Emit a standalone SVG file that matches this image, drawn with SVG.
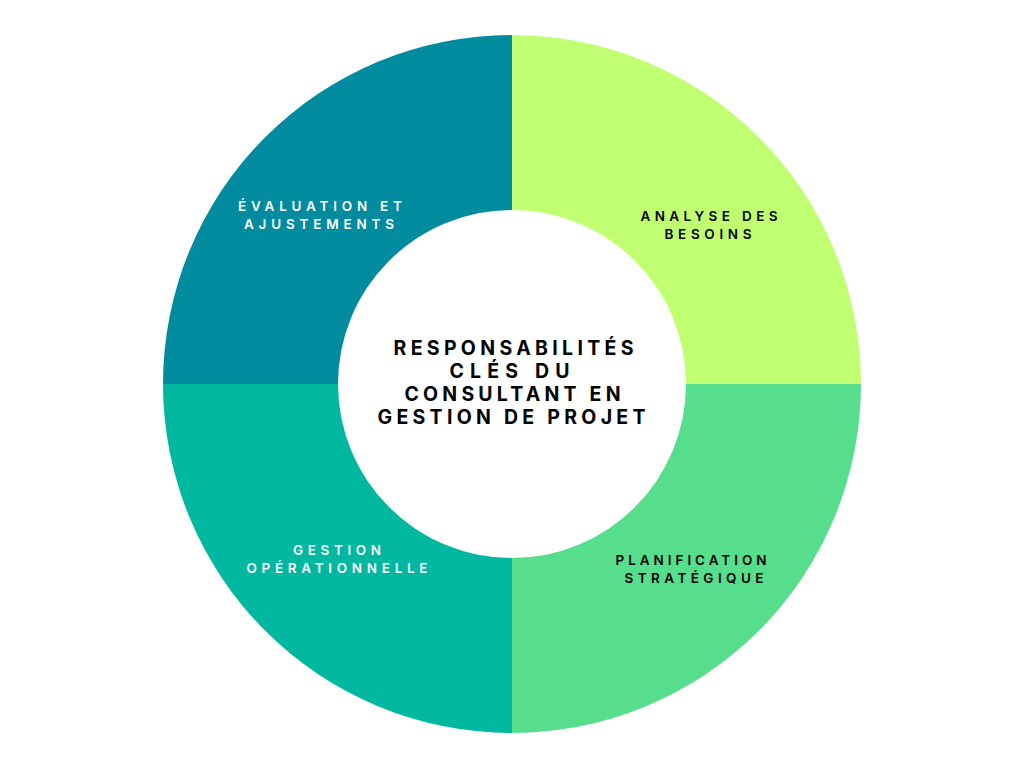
<svg xmlns="http://www.w3.org/2000/svg" width="1024" height="768" viewBox="0 0 1024 768">
<style>
.lbl{font-family:"Inter","Liberation Sans",sans-serif;font-weight:600;font-size:13.5px;text-anchor:middle}
.ctr{font-family:"Inter","Liberation Sans",sans-serif;font-weight:700;font-size:19.5px;text-anchor:middle;fill:#000}
.w{fill:#fff}.k{fill:#000}
</style>
<rect width="1024" height="768" fill="#fff"/>
<g id="analyse">
<path d="M512,35 A349,349 0 0 1 861,384 L686,384 A174,174 0 0 0 512,210 Z" fill="#C1FF72"/>
<text class="lbl k" x="709" y="221" textLength="137" lengthAdjust="spacing">ANALYSE DES</text>
<text class="lbl k" x="708" y="239" textLength="87" lengthAdjust="spacing">BESOINS</text>
</g>
<g id="planification">
<path d="M861,384 A349,349 0 0 1 512,733 L512,558 A174,174 0 0 0 686,384 Z" fill="#57DE8C"/>
<text class="lbl k" x="691" y="565" textLength="151" lengthAdjust="spacing">PLANIFICATION</text>
<text class="lbl k" x="694" y="583" textLength="139" lengthAdjust="spacing">STRATÉGIQUE</text>
</g>
<g id="gestion">
<path d="M512,733 A349,349 0 0 1 163,384 L338,384 A174,174 0 0 0 512,558 Z" fill="#00B8A0"/>
<text class="lbl w" x="337" y="555" textLength="88" lengthAdjust="spacing">GESTION</text>
<text class="lbl w" x="337" y="573" textLength="181" lengthAdjust="spacing">OPÉRATIONNELLE</text>
</g>
<g id="evaluation">
<path d="M163,384 A349,349 0 0 1 512,35 L512,210 A174,174 0 0 0 338,384 Z" fill="#008C9E"/>
<text class="lbl w" x="320" y="211" textLength="164" lengthAdjust="spacing">ÉVALUATION ET</text>
<text class="lbl w" x="319" y="229" textLength="150" lengthAdjust="spacing">AJUSTEMENTS</text>
</g>
<g id="centre">
<text class="ctr" x="513.5" y="355" textLength="240" lengthAdjust="spacing">RESPONSABILITÉS</text>
<text class="ctr" x="509.5" y="378" textLength="120" lengthAdjust="spacing">CLÉS DU</text>
<text class="ctr" x="512.5" y="401" textLength="216" lengthAdjust="spacing">CONSULTANT EN</text>
<text class="ctr" x="511.5" y="424" textLength="268" lengthAdjust="spacing">GESTION DE PROJET</text>
</g>
<g id="connectors"/>
</svg>
